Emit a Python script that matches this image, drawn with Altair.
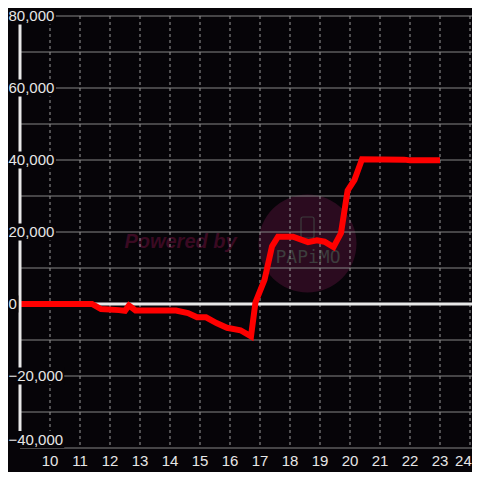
import altair as alt
import pandas as pd

# ---- data ----
hours = [9, 11.4, 11.7, 12.3, 12.5, 12.63, 12.85, 14.2, 14.6, 14.9, 15.2, 15.55,
         15.9, 16.35, 16.7, 16.85, 17.15, 17.4, 17.6, 18.1, 18.6, 18.9, 19.15,
         19.45, 19.7, 19.92, 20.15, 20.4, 21.8, 22.0, 23.0]
balance = [0, 0, -1400, -1700, -1900, -400, -1800, -1800, -2500, -3700, -3700, -5300,
           -6600, -7300, -9000, 500, 6700, 16000, 18700, 18700, 17200, 17700, 17300,
           15800, 19700, 31500, 34500, 40200, 40100, 39900, 39900]
y_grid = [-40000, -30000, -20000, -10000, 0, 10000, 20000, 30000, 40000, 50000, 60000, 70000, 80000]
y_labels = [-40000, -20000, 0, 20000, 40000, 60000, 80000]
x_ticks = [10, 11, 12, 13, 14, 15, 16, 17, 18, 19, 20, 21, 22, 23, 24]

BG = "#060408"
PW, PH = 452, 432
PX_X = 30.0          # px per hour
PX_Y = PH / 120000   # px per unit
XDOM = [9, 9 + PW / PX_X]
YDOM = [-40000, 80000]

xs = alt.Scale(domain=XDOM, nice=False, zero=False)
ys = alt.Scale(domain=YDOM, nice=False, zero=False)

line_df = pd.DataFrame({"h": hours, "v": balance})
hgrid_df = pd.DataFrame({"v": y_grid})
vgrid_df = pd.DataFrame({"x": x_ticks})
lab_df = pd.DataFrame({"v": y_labels})
one = pd.DataFrame({"x": [9], "v": [0]})

# watermark
circle = alt.Chart(one).mark_circle(size=9604, color="#2b0b1f", opacity=1).encode(
    x=alt.value(287.5), y=alt.value(227.5))
powered = alt.Chart(one).mark_text(
    text="Powered by", font="Liberation Sans", fontSize=20, fontWeight="bold",
    fontStyle="italic", color="#3a0a22", align="center", baseline="alphabetic"
).encode(x=alt.value(160.5), y=alt.value(232))
papimo = alt.Chart(one).mark_text(
    text="PAPiMO", font="DejaVu Sans Mono", fontSize=18, color="#3d3d3d",
    align="center", baseline="middle"
).encode(x=alt.value(288), y=alt.value(242))
phone = alt.Chart(one).mark_rect(fill=None, stroke="#3d3d3d", strokeWidth=1.2,
                                 cornerRadius=2).encode(
    x=alt.value(281), x2=alt.value(294), y=alt.value(201), y2=alt.value(222))

hgrid = alt.Chart(hgrid_df).mark_rule(color="#858585", strokeWidth=1).encode(
    y=alt.Y("v:Q", scale=ys, axis=None))
vgrid = alt.Chart(vgrid_df).mark_rule(color="#9a9a9a", strokeWidth=1,
                                       strokeDash=[3, 3]).encode(
    x=alt.X("x:Q", scale=xs, axis=None))
xlabels = alt.Chart(vgrid_df).transform_calculate(
    xp=f"min(datum.x, {XDOM[1]} - 8.6 / {PX_X})",
    lab="toString(datum.x)",
).mark_text(font="Liberation Sans", fontSize=15, color="#e6e6e6",
            align="center", baseline="middle").encode(
    x=alt.X("xp:Q", scale=xs, axis=None), y=alt.value(PH + 12.5), text="lab:N")
zero = alt.Chart(one).mark_rule(color="#e8e8e8", strokeWidth=3).encode(
    y=alt.Y("v:Q", scale=ys, axis=None))
line = alt.Chart(line_df).mark_line(color="#ff0000", strokeWidth=6).encode(
    x=alt.X("h:Q", scale=xs, axis=None), y=alt.Y("v:Q", scale=ys, axis=None))
yaxis = alt.Chart(one).mark_rule(color="#e8e8e8", strokeWidth=3).encode(
    x=alt.X("x:Q", scale=xs, axis=None))

labs = alt.Chart(lab_df).transform_calculate(
    label="format(datum.v, ',')",
    pos=f"datum.v == {YDOM[0]} ? datum.v + {8.5 / PX_Y} : datum.v",
    w="8.34*length(replace(replace(datum.label, ',', ''), '-', '')) + (indexof(datum.label, ',') >= 0 ? 4.2 : 0) + (indexof(datum.label, '-') >= 0 ? 5 : 0)",
    xl=f"{XDOM[0]} - 12 / {PX_X}",
    xr=f"{XDOM[0]} + (-12 + datum.w + 2) / {PX_X}",
    yl=f"datum.pos - {8.5 / PX_Y}",
    yh=f"datum.pos + {8.5 / PX_Y}",
)
boxes = labs.mark_rect(color=BG).encode(
    x=alt.X("xl:Q", scale=xs, axis=None), x2="xr:Q",
    y=alt.Y("yl:Q", scale=ys, axis=None), y2="yh:Q")
texts = labs.mark_text(font="Liberation Sans", fontSize=15, color="#e6e6e6",
                       align="left", baseline="middle").encode(
    x=alt.value(-11.5), y=alt.Y("pos:Q", scale=ys, axis=None), text="label:N")

chart = alt.layer(circle, powered, papimo, phone, hgrid, vgrid, zero, line, yaxis,
                  boxes, texts, xlabels).properties(
    width=PW, height=PH,
    autosize=alt.AutoSizeParams(type="none"),
    padding={"left": 12, "top": 8, "right": 0, "bottom": 24},
    background=BG,
).configure_view(stroke=None, fill=BG)

chart.save("out.html", embed_options={"renderer": "svg", "actions": False})
